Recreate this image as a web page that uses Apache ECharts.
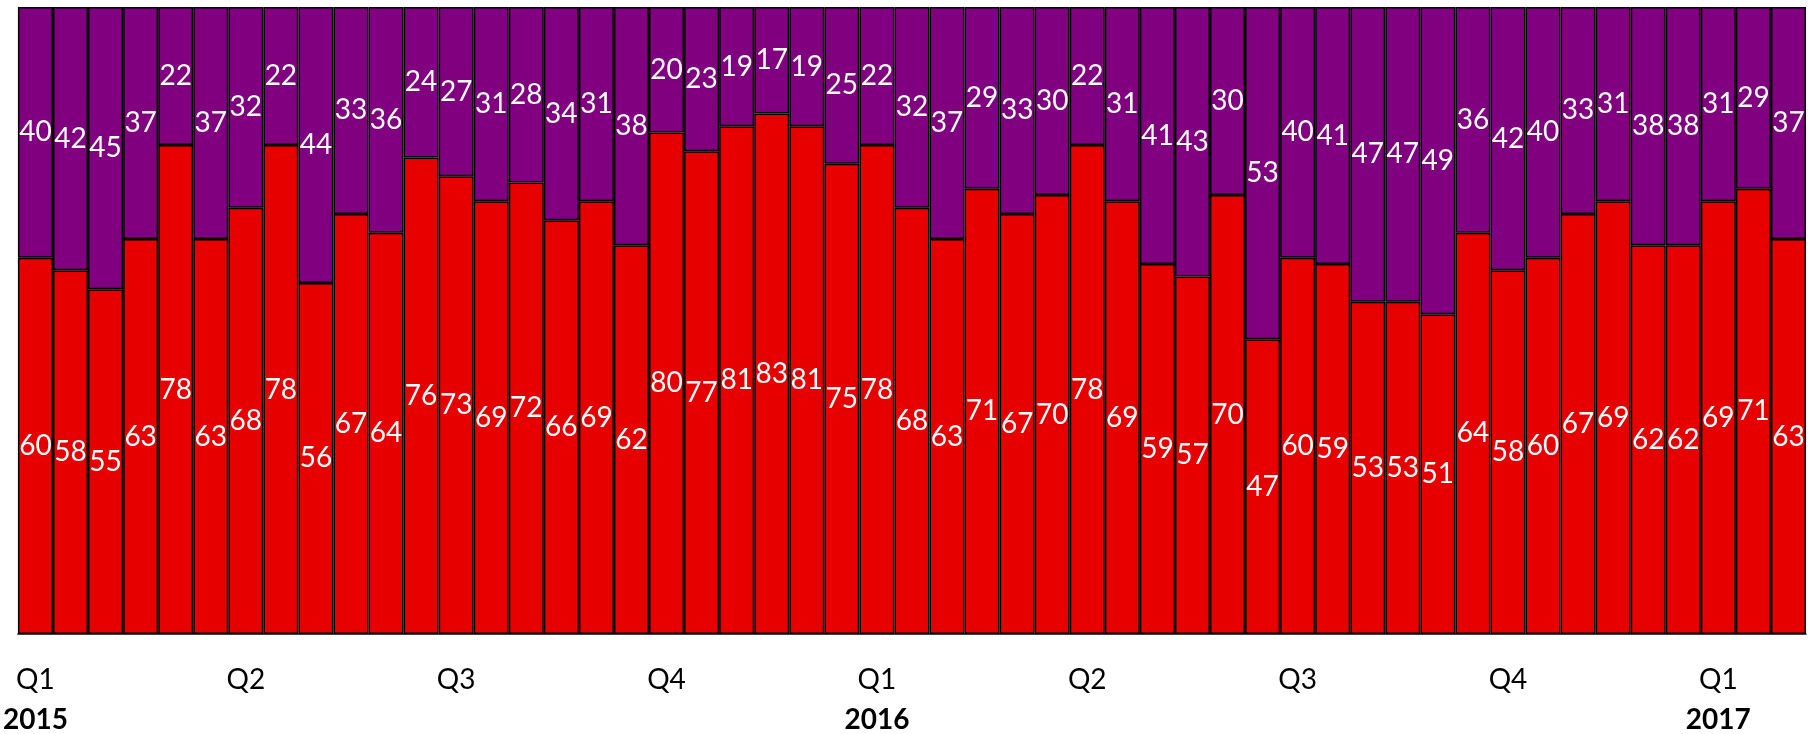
<!DOCTYPE html>
<html>
<head>
<meta charset="utf-8">
<script src="https://cdn.jsdelivr.net/npm/echarts@6/dist/echarts.min.js"></script>
<style>
  html, body { margin: 0; padding: 0; background: #fff; }
  #chart { width: 1812px; height: 734px; }
</style>
</head>
<body>
<div id="chart"></div>
<script>
// Half-month periods, January 2015 to the first half of February 2017
const periods = [];
for (let y = 2015; y <= 2017; y++) {
  for (let m = 1; m <= 12; m++) {
    for (const h of ['a', 'b']) {
      if (periods.length < 51) periods.push(y + '-' + String(m).padStart(2, '0') + h);
    }
  }
}

// Share of each period (percent), lower segment
const redShare = [60, 58, 55, 63, 78, 63, 68, 78, 56, 67, 64, 76, 73, 69, 72, 66, 69, 62,
  80, 77, 81, 83, 81, 75, 78, 68, 63, 71, 67, 70, 78, 69, 59, 57, 70, 47,
  60, 59, 53, 53, 51, 64, 58, 60, 67, 69, 62, 62, 69, 71, 63];

// Share of each period (percent), upper segment
const purpleShare = [40, 42, 45, 37, 22, 37, 32, 22, 44, 33, 36, 24, 27, 31, 28, 34, 31, 38,
  20, 23, 19, 17, 19, 25, 22, 32, 37, 29, 33, 30, 22, 31, 41, 43, 30, 53,
  40, 41, 47, 47, 49, 36, 42, 40, 33, 31, 38, 38, 31, 29, 37];

// One tick every six periods (one quarter)
const quarterTicks = ['Q1', 'Q2', 'Q3', 'Q4', 'Q1', 'Q2', 'Q3', 'Q4', 'Q1'];
const yearTicks = ['2015', '', '', '', '2016', '', '', '', '2017'];

const FONT = 'Lato';

const chart = echarts.init(document.getElementById('chart'));

const labelStyle = {
  show: true,
  position: 'inside',
  color: '#fff',
  fontSize: 28,
  fontFamily: FONT
};

chart.setOption({
  animation: false,
  grid: { left: 14, right: 6, top: 7, bottom: 98, containLabel: false },
  xAxis: {
    type: 'category',
    data: periods,
    axisLine: { show: true, lineStyle: { color: '#000', width: 1.5 } },
    axisTick: { show: false },
    axisLabel: {
      interval: 5,
      margin: 26,
      formatter: function (value, index) {
        const k = Math.round(index / 6);
        const q = '{q|' + quarterTicks[k] + '}';
        return yearTicks[k] ? q + '\n{y|' + yearTicks[k] + '}' : q;
      },
      rich: {
        q: { fontSize: 28, fontFamily: FONT, color: '#000', lineHeight: 40 },
        y: { fontSize: 28, fontFamily: FONT, fontWeight: 'bold', color: '#000', lineHeight: 40 }
      }
    }
  },
  yAxis: {
    type: 'value',
    min: 0,
    max: 100,
    show: false,
    splitLine: { show: false }
  },
  series: [
    {
      name: 'lower',
      type: 'bar',
      stack: 'share',
      data: redShare,
      barCategoryGap: 0,
      itemStyle: { color: '#E60000', borderColor: '#000', borderWidth: 1.5 },
      label: labelStyle
    },
    {
      name: 'upper',
      type: 'bar',
      stack: 'share',
      data: purpleShare,
      barCategoryGap: 0,
      itemStyle: { color: '#800080', borderColor: '#000', borderWidth: 1.5 },
      label: labelStyle
    }
  ]
});
</script>
</body>
</html>
